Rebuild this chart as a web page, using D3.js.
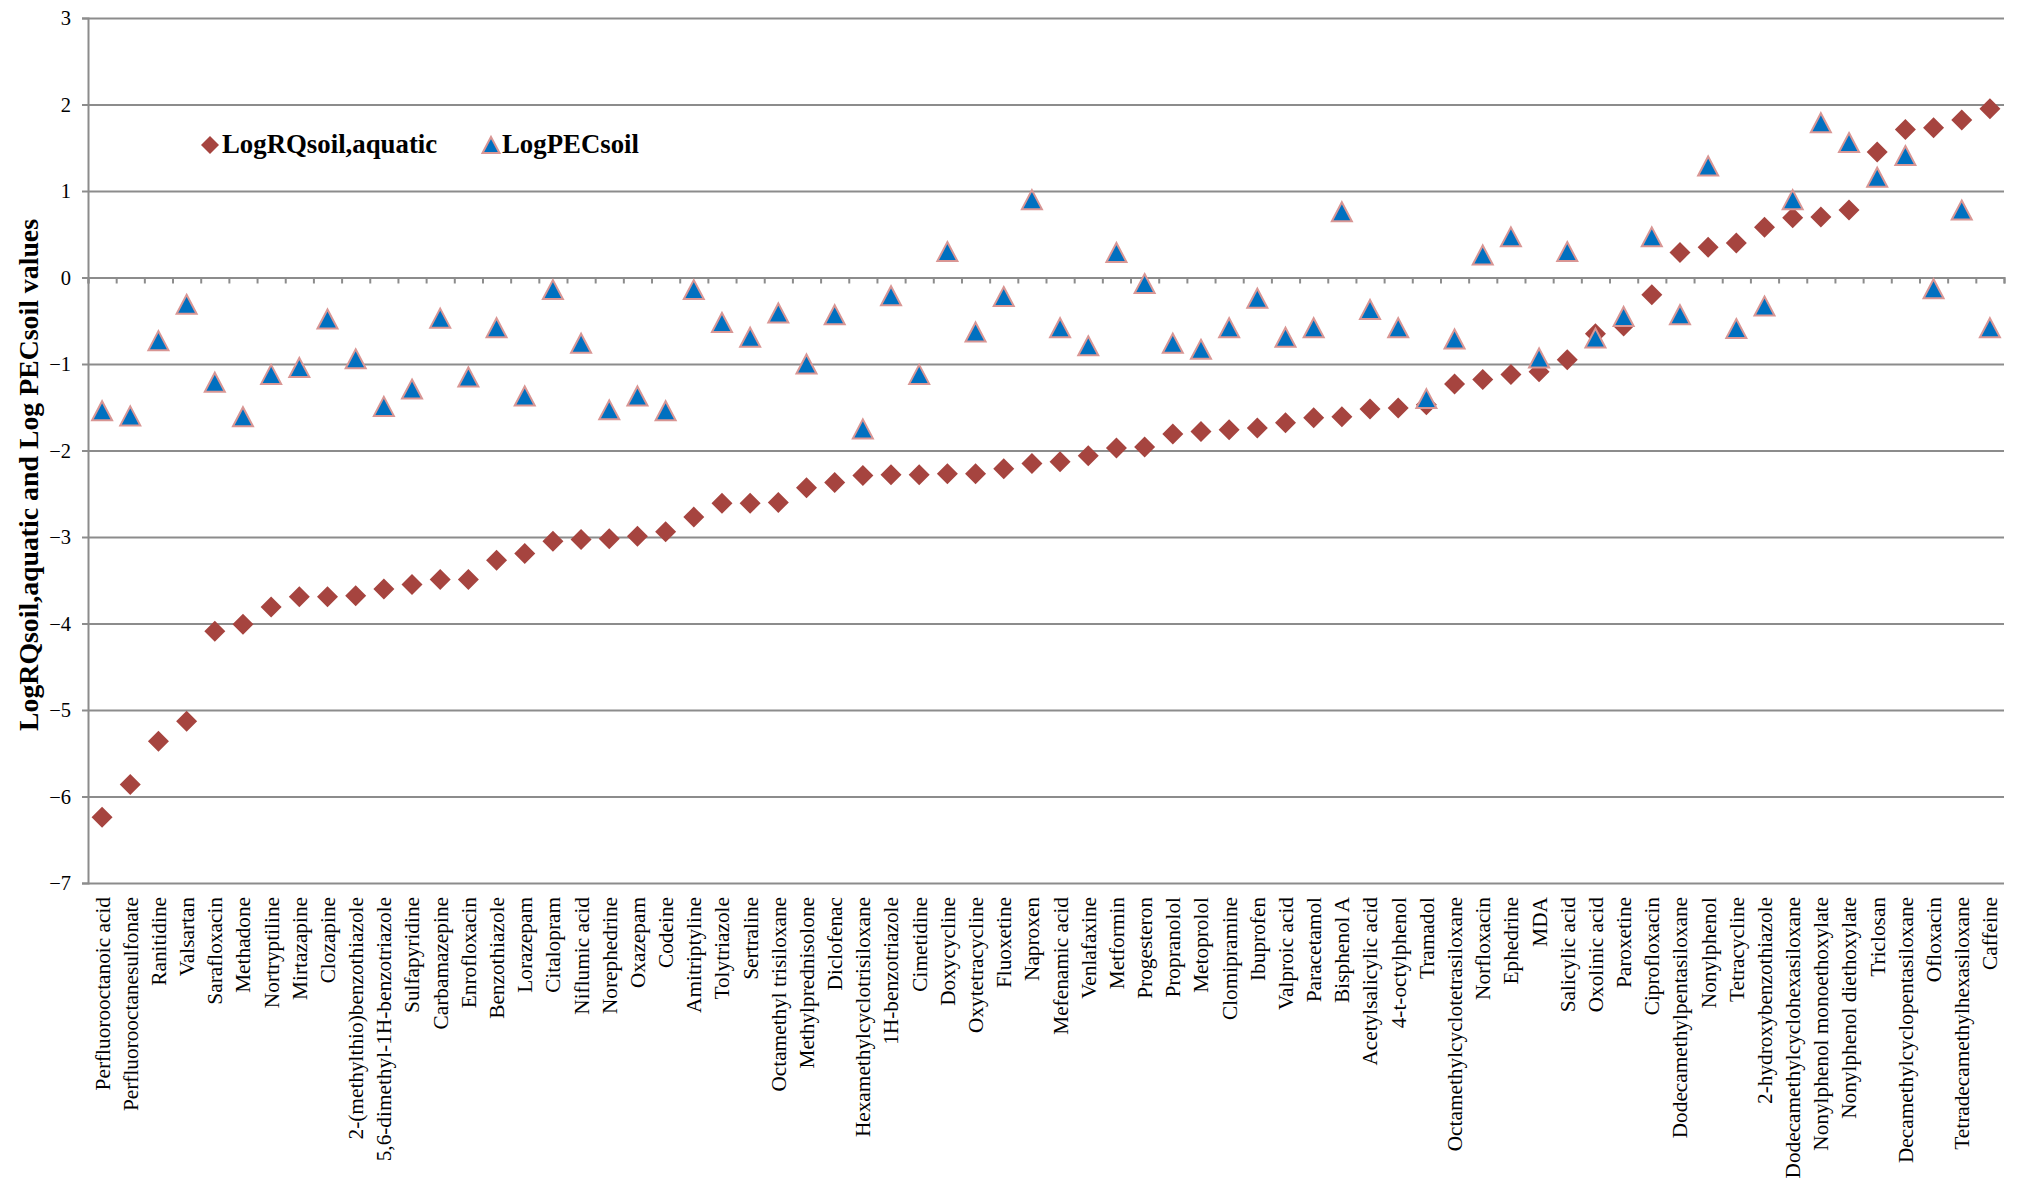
<!DOCTYPE html>
<html>
<head>
<meta charset="utf-8">
<script src="https://cdn.jsdelivr.net/npm/d3@7"></script>
<style>
  html, body { margin: 0; padding: 0; background: #ffffff; }
  svg { display: block; }
  text { font-family: "Liberation Serif", "Times New Roman", serif; fill: #000; }
</style>
</head>
<body>
<svg id="chart" width="2019" height="1180"></svg>
<script>
// Compounds, ordered by increasing risk quotient
const compounds = [
  "Perfluorooctanoic acid", "Perfluorooctanesulfonate", "Ranitidine", "Valsartan",
  "Sarafloxacin", "Methadone", "Nortryptiline", "Mirtazapine", "Clozapine",
  "2-(methylthio)benzothiazole", "5,6-dimethyl-1H-benzotriazole", "Sulfapyridine",
  "Carbamazepine", "Enrofloxacin", "Benzothiazole", "Lorazepam", "Citalopram",
  "Niflumic acid", "Norephedrine", "Oxazepam", "Codeine", "Amitriptyline",
  "Tolytriazole", "Sertraline", "Octamethyl trisiloxane", "Methylprednisolone",
  "Diclofenac", "Hexamethylcyclotrisiloxane", "1H-benzotriazole", "Cimetidine",
  "Doxycycline", "Oxytetracycline", "Fluoxetine", "Naproxen", "Mefenamic acid",
  "Venlafaxine", "Metformin", "Progesteron", "Propranolol", "Metoprolol",
  "Clomipramine", "Ibuprofen", "Valproic acid", "Paracetamol", "Bisphenol A",
  "Acetylsalicylic acid", "4-t-octylphenol", "Tramadol",
  "Octamethylcyclotetrasiloxane", "Norfloxacin", "Ephedrine", "MDA",
  "Salicylic acid", "Oxolinic acid", "Paroxetine", "Ciprofloxacin",
  "Dodecamethylpentasiloxane", "Nonylphenol", "Tetracycline",
  "2-hydroxybenzothiazole", "Dodecamethylcyclohexasiloxane",
  "Nonylphenol monoethoxylate", "Nonylphenol diethoxylate", "Triclosan",
  "Decamethylcyclopentasiloxane", "Ofloxacin", "Tetradecamethylhexasiloxane",
  "Caffeine"
];

// Log RQ (soil, aquatic)
const logRQ = [
  -6.24, -5.86, -5.36, -5.13, -4.09, -4.01, -3.81, -3.69, -3.69, -3.68,
  -3.60, -3.55, -3.49, -3.49, -3.27, -3.19, -3.05, -3.03, -3.02, -2.99,
  -2.94, -2.77, -2.61, -2.61, -2.60, -2.43, -2.37, -2.29, -2.28, -2.28,
  -2.27, -2.27, -2.21, -2.15, -2.13, -2.06, -1.97, -1.96, -1.81, -1.78,
  -1.76, -1.74, -1.68, -1.62, -1.61, -1.52, -1.51, -1.47, -1.23, -1.18,
  -1.12, -1.09, -0.95, -0.65, -0.56, -0.20, 0.29, 0.35, 0.40, 0.58,
  0.69, 0.70, 0.78, 1.45, 1.71, 1.73, 1.82, 1.95
];

// Log PEC (soil)
const logPEC = [
  -1.54, -1.60, -0.73, -0.31, -1.21, -1.61, -1.12, -1.04, -0.48, -0.94,
  -1.49, -1.29, -0.47, -1.15, -0.58, -1.37, -0.14, -0.76, -1.53, -1.37,
  -1.54, -0.14, -0.52, -0.69, -0.41, -1.00, -0.43, -1.75, -0.21, -1.12,
  0.30, -0.63, -0.22, 0.90, -0.58, -0.79, 0.29, -0.07, -0.76, -0.83,
  -0.58, -0.24, -0.69, -0.58, 0.76, -0.37, -0.58, -1.40, -0.71, 0.26,
  0.47, -0.93, 0.30, -0.70, -0.45, 0.47, -0.43, 1.29, -0.59, -0.33,
  0.90, 1.79, 1.56, 1.16, 1.41, -0.13, 0.78, -0.58
];

const yTicks = [-7, -6, -5, -4, -3, -2, -1, 0, 1, 2, 3];
const seriesNames = ["LogRQsoil,aquatic", "LogPECsoil"];
const yTitle = "LogRQsoil,aquatic and Log PECsoil values";

// ---- layout ----
const plot = { left: 88, right: 2004, top: 18, bottom: 883 };
const gridColor = "#8c8c8c";
const rqColor = "#A6443F";
const pecFill = "#0070C0";
const pecStroke = "#D99694";

const svg = d3.select("#chart");

const x = d3.scaleBand()
  .domain(compounds)
  .range([plot.left, plot.right])
  .padding(0);

const y = d3.scaleLinear()
  .domain([d3.min(yTicks), d3.max(yTicks)])
  .range([plot.bottom, plot.top]);

// horizontal gridlines
svg.append("g")
  .attr("transform", `translate(${plot.left},0)`)
  .call(d3.axisLeft(y).tickValues(yTicks).tickSize(-(plot.right - plot.left)).tickFormat(""))
  .call(g => g.select(".domain").remove())
  .call(g => g.selectAll("line").attr("stroke", gridColor).attr("stroke-width", 2));

// value axis
svg.append("g")
  .attr("transform", `translate(${plot.left},0)`)
  .call(d3.axisLeft(y).tickValues(yTicks).tickSize(6).tickPadding(11).tickFormat(d3.format("d")))
  .call(g => g.select(".domain").attr("stroke", gridColor).attr("stroke-width", 2))
  .call(g => g.selectAll("line").attr("stroke", gridColor).attr("stroke-width", 2))
  .call(g => g.selectAll("text")
    .style("font-family", "'Liberation Serif', 'Times New Roman', serif")
    .style("font-size", "20.5px")
    .attr("fill", "#000"));

// category axis line at zero, with tick marks between categories
const boundary = d3.scaleLinear().domain([0, compounds.length]).range([plot.left, plot.right]);
svg.append("g")
  .attr("transform", `translate(0,${y(0)})`)
  .call(d3.axisBottom(boundary).tickValues(d3.range(compounds.length + 1)).tickSize(6).tickFormat(""))
  .call(g => g.select(".domain").attr("stroke", gridColor).attr("stroke-width", 2))
  .call(g => g.selectAll("line").attr("stroke", gridColor).attr("stroke-width", 2));

// category labels below the plot
svg.append("g")
  .attr("transform", `translate(0,${plot.bottom})`)
  .call(d3.axisBottom(x).tickSize(0).tickPadding(0))
  .call(g => g.select(".domain").remove())
  .call(g => g.selectAll("text")
    .style("font-family", "'Liberation Serif', 'Times New Roman', serif")
    .style("font-size", "21.3px")
    .attr("fill", "#000")
    .attr("text-anchor", "end")
    .attr("transform", "rotate(-90)")
    .attr("x", -14)
    .attr("y", 0)
    .attr("dy", "0.35em"));

// marker shapes
const diamondPath = "M0,-10.5L10.5,0L0,10.5L-10.5,0Z";
const trianglePath = "M0,-9.5L10,9.5L-10,9.5Z";

const rqData = compounds.map((c, i) => ({ c, v: logRQ[i] }));
const pecData = compounds.map((c, i) => ({ c, v: logPEC[i] }));

svg.append("g").selectAll("path")
  .data(rqData)
  .join("path")
  .attr("d", diamondPath)
  .attr("transform", d => `translate(${x(d.c) + x.bandwidth() / 2},${y(d.v)})`)
  .attr("fill", rqColor);

svg.append("g").selectAll("path")
  .data(pecData)
  .join("path")
  .attr("d", trianglePath)
  .attr("transform", d => `translate(${x(d.c) + x.bandwidth() / 2},${y(d.v)})`)
  .attr("fill", pecFill)
  .attr("stroke", pecStroke)
  .attr("stroke-width", 2);

// legend
const legend = svg.append("g");
legend.append("path")
  .attr("d", "M0,-9L9,0L0,9L-9,0Z")
  .attr("transform", "translate(210,145)")
  .attr("fill", rqColor);
legend.append("text")
  .attr("x", 222).attr("y", 153)
  .style("font-size", "26.8px").style("font-weight", "bold")
  .text(seriesNames[0]);
legend.append("path")
  .attr("d", "M0,-8L8.5,8L-8.5,8Z")
  .attr("transform", "translate(491,145)")
  .attr("fill", pecFill)
  .attr("stroke", pecStroke)
  .attr("stroke-width", 2);
legend.append("text")
  .attr("x", 502).attr("y", 153)
  .style("font-size", "26.8px").style("font-weight", "bold")
  .text(seriesNames[1]);

// y-axis title
svg.append("text")
  .attr("transform", "translate(28,475) rotate(-90)")
  .attr("text-anchor", "middle")
  .attr("dy", "0.35em")
  .style("font-size", "27.8px").style("font-weight", "bold")
  .text(yTitle);
</script>
</body>
</html>
